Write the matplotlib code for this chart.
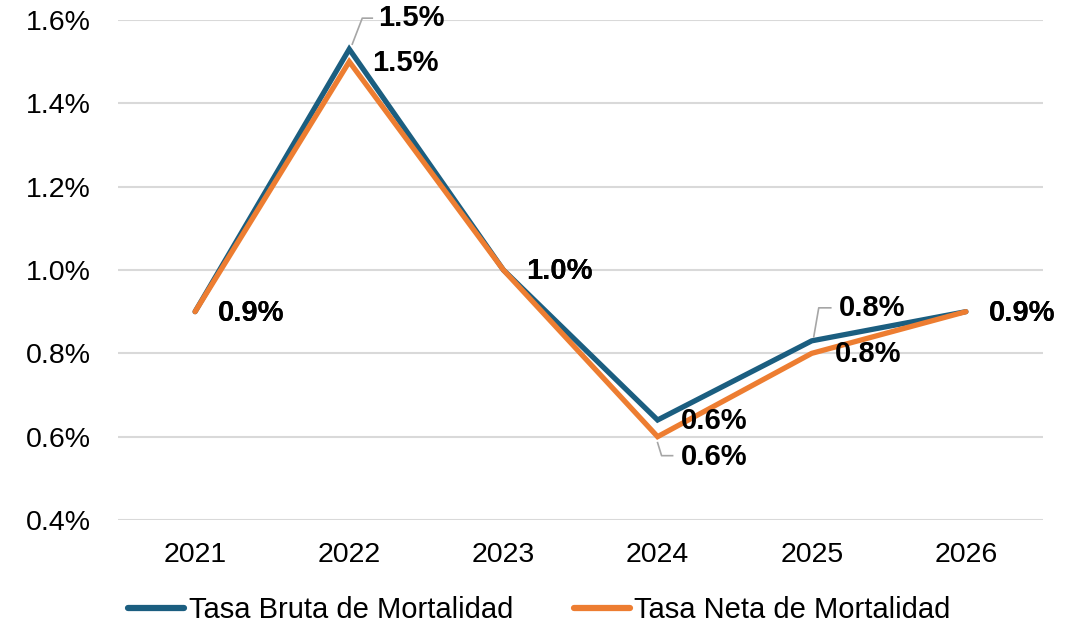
import matplotlib
matplotlib.use("Agg")
import matplotlib.pyplot as plt
import matplotlib.transforms as mtransforms
from matplotlib.ticker import FuncFormatter

plt.rcParams['font.family'] = ['Liberation Sans', 'DejaVu Sans']

years = ["2021", "2022", "2023", "2024", "2025", "2026"]
bruta = [0.90, 1.53, 1.00, 0.64, 0.83, 0.90]
neta = [0.90, 1.50, 1.00, 0.60, 0.80, 0.90]
series_names = ["Tasa Bruta de Mortalidad", "Tasa Neta de Mortalidad"]
yticks = [0.4, 0.6, 0.8, 1.0, 1.2, 1.4, 1.6]

c_blue = "#1B5E80"
c_orange = "#ED7D31"

fig = plt.figure(figsize=(10.79, 6.26), dpi=100)
ax = fig.add_axes([118/1079, 1 - 520/626, (1043-118)/1079, 500/626])

x = list(range(len(years)))
ax.plot(x, bruta, color=c_blue, lw=3.8, solid_capstyle='round', solid_joinstyle='miter', label=series_names[0], zorder=3)
ax.plot(x, neta, color=c_orange, lw=3.8, solid_capstyle='round', solid_joinstyle='miter', label=series_names[1], zorder=4)

ax.set_xlim(-0.5, len(years) - 0.5)
ax.set_ylim(0.4, 1.6)
ax.set_yticks(yticks)
ax.yaxis.set_major_formatter(FuncFormatter(lambda v, p: f"{v:.1f}%"))
ax.set_xticks(x)
ax.set_xticklabels(years)
ax.tick_params(axis='both', length=0, labelsize=20.5, colors='black')
ax.tick_params(axis='y', pad=19.5)
ax.tick_params(axis='x', pad=16)
ax.grid(axis='y', color='#D9D9D9', lw=1.5)
ax.set_axisbelow(True)
for s in ax.spines.values():
    s.set_visible(False)

# label offsets in pixels (dx, dy) from point; default right of point
default_off = (23, -1)
special = {
    (0, 1): ((29, 31), [(3, 5), (13, 31), (23, 31)]),
    (1, 3): ((23, -20), [(0, -6), (4, -19), (15, -19)]),
    (0, 4): ((27, 33), [(2, 4), (7, 33), (19, 33)]),
}
fig.canvas.draw()
for si, vals in enumerate([bruta, neta]):
    for i, v in enumerate(vals):
        off, leader = special.get((si, i), (default_off, None))
        ax.annotate(f"{v:.1f}%", xy=(i, v), xytext=off, textcoords='offset pixels',
                    ha='left', va='center', fontsize=21, fontweight='bold',
                    color='black', zorder=6)
        if leader:
            bx, by = ax.transData.transform((i, v))
            xs = [bx + d[0] for d in leader]
            ys = [by + d[1] for d in leader]
            ax.plot(xs, ys, color='#A6A6A6', lw=1.2, transform=mtransforms.IdentityTransform(),
                    zorder=5, clip_on=False)

leg = fig.legend(loc='center', bbox_to_anchor=(0.5, 1 - 610/626), ncol=2, frameon=False,
                 fontsize=21, handlelength=1.9, handletextpad=0.17, columnspacing=2.1)
for h in leg.get_lines():
    h.set_linewidth(4.5)

fig.savefig("out.png", dpi=100)
